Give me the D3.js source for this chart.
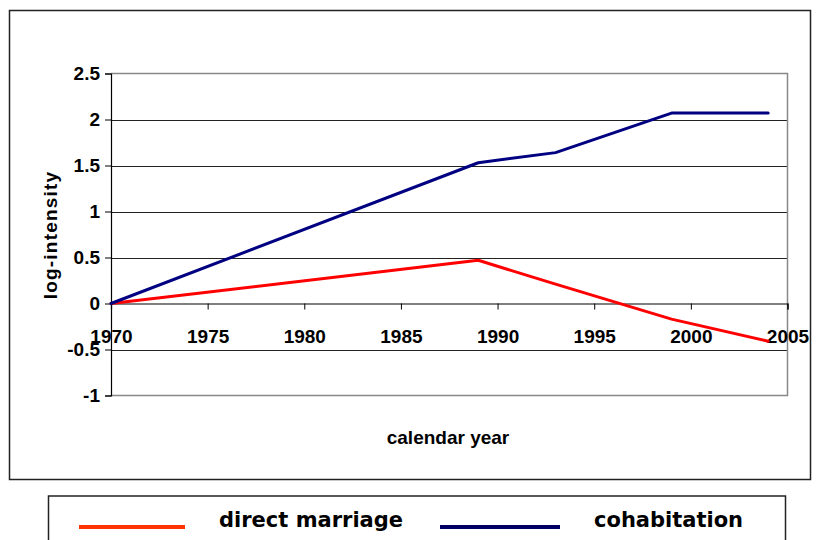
<!DOCTYPE html>
<html>
<head>
<meta charset="utf-8">
<script src="https://cdn.jsdelivr.net/npm/d3@7"></script>
<style>
  body { margin: 0; background: #fff; }
  text { font-family: "Liberation Sans", Arial, sans-serif; font-weight: bold; fill: #000; }
</style>
</head>
<body>
<main></main>
<script>
(function(){

  // DATA
  const years = [1970, 1989, 1993, 1999, 2004],
  directMarriage = [0, 0.47, 0.21, -0.17, -0.41],
  cohabitation = [0, 1.53, 1.64, 2.07, 2.07],
  xTicks = [1970, 1975, 1980, 1985, 1990, 1995, 2000, 2005],
  yTicks = [-1, -0.5, 0, 0.5, 1, 1.5, 2, 2.5],
  seriesNames = ["direct marriage", "cohabitation"];

  const w = 817,
  h = 540,
  left = 111,
  right = 787.5,
  top = 73.5,
  bottom = 395.5;

  const svg = d3.select("main")
    .append("svg")
    .attr("width", w)
    .attr("height", h);

  // OUTER FRAME
  svg.append("rect")
    .attr("x", 9.5).attr("y", 10.5)
    .attr("width", 801).attr("height", 469)
    .attr("fill", "none")
    .attr("stroke", "#222")
    .attr("stroke-width", 1.5);

  const x = d3.scaleLinear().domain([1970, 2005]).range([left, right]);
  const y = d3.scaleLinear().domain([-1, 2.5]).range([bottom, top]);

  // GRID
  svg.append("g")
    .selectAll("line")
    .data(yTicks.filter(d => d !== -1 && d !== 2.5 && d !== 0))
    .enter()
    .append("line")
    .attr("x1", left).attr("x2", right)
    .attr("y1", d => Math.round(y(d)) + 0.5)
    .attr("y2", d => Math.round(y(d)) + 0.5)
    .attr("stroke", "#222");

  // PLOT BORDER
  svg.append("path")
    .attr("d", `M${left},${top}H${right}V${bottom}H${left}`)
    .attr("fill", "none")
    .attr("stroke", "#888")
    .attr("stroke-width", 1.5);

  // Y AXIS
  const yAxis = d3.axisLeft(y)
    .tickValues(yTicks)
    .tickSize(6)
    .tickPadding(5)
    .tickFormat(d => d);

  svg.append("g")
    .attr("transform", "translate(" + left + ",0)")
    .call(yAxis)
    .call(g => g.select(".domain").attr("stroke", "#000").attr("stroke-width", 1.2))
    .call(g => g.selectAll(".tick line").attr("stroke", "#000"))
    .call(g => g.selectAll("text")
      .attr("font-size", 19)
      .style("font-family", "'Liberation Sans', Arial, sans-serif")
      .style("font-weight", "bold"));

  // X AXIS AT ZERO
  const xAxis = d3.axisBottom(x)
    .tickValues(xTicks)
    .tickSize(6)
    .tickPadding(20.5)
    .tickFormat(d3.format("d"));

  svg.append("g")
    .attr("transform", "translate(0," + y(0) + ")")
    .call(xAxis)
    .call(g => g.select(".domain").attr("stroke", "#000").attr("stroke-width", 1.2))
    .call(g => g.selectAll(".tick line").attr("stroke", "#000"))
    .call(g => g.selectAll("text")
      .attr("font-size", 19)
      .style("font-family", "'Liberation Sans', Arial, sans-serif")
      .style("font-weight", "bold"));

  // LINES
  const line = d3.line()
    .x((d, i) => x(years[i]))
    .y(d => y(d));

  svg.append("path")
    .datum(directMarriage)
    .attr("d", line)
    .attr("fill", "none")
    .attr("stroke", "#ff0000")
    .attr("stroke-width", 3)
    .attr("stroke-linejoin", "round")
    .attr("stroke-linecap", "round");

  svg.append("path")
    .datum(cohabitation)
    .attr("d", line)
    .attr("fill", "none")
    .attr("stroke", "#000080")
    .attr("stroke-width", 3)
    .attr("stroke-linejoin", "round")
    .attr("stroke-linecap", "round");

  // AXIS TITLES
  svg.append("text")
    .attr("transform", "translate(57,235) rotate(-90)")
    .attr("text-anchor", "middle")
    .attr("font-size", 19)
    .attr("letter-spacing", 1.2)
    .text("log-intensity");

  svg.append("text")
    .attr("x", 448)
    .attr("y", 444)
    .attr("text-anchor", "middle")
    .attr("font-size", 19)
    .text("calendar year");

  // LEGEND
  const legend = svg.append("g");
  legend.append("rect")
    .attr("x", 48.5).attr("y", 496)
    .attr("width", 737).attr("height", 60)
    .attr("fill", "none")
    .attr("stroke", "#222")
    .attr("stroke-width", 1.5);

  const legendColors = ["#ff3300", "#000066"],
  legendLineX = [79, 440],
  legendLineW = [106, 120],
  legendTextX = [219, 594];

  seriesNames.forEach((name, i) => {
    legend.append("line")
      .attr("x1", legendLineX[i]).attr("x2", legendLineX[i] + legendLineW[i])
      .attr("y1", 527).attr("y2", 527)
      .attr("stroke", legendColors[i])
      .attr("stroke-width", 4);
    legend.append("text")
      .attr("x", legendTextX[i])
      .attr("y", 527)
      .attr("font-size", 21)
      .style("font-family", "'DejaVu Sans', Verdana, sans-serif")
      .text(name);
  });

})()
</script>
</body>
</html>
